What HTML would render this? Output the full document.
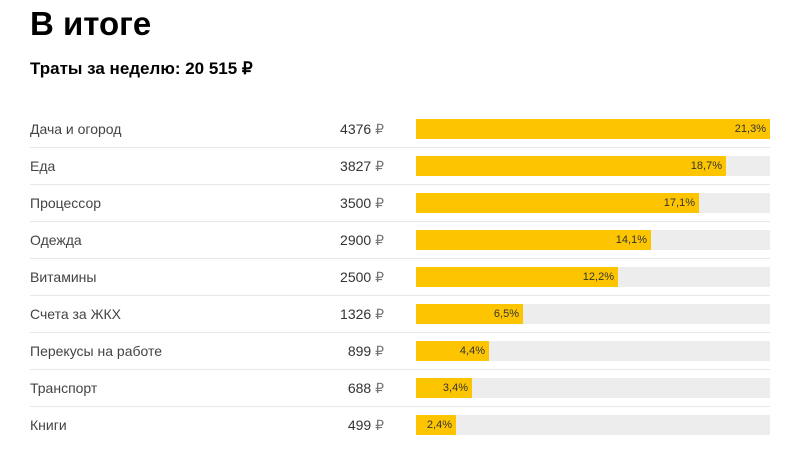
<!DOCTYPE html>
<html><head><meta charset="utf-8"><style>
body{margin:0;width:799px;height:445px;background:#fff;font-family:"Liberation Sans",sans-serif;color:#222;position:relative;overflow:hidden}
h1{position:absolute;left:30px;top:5px;margin:0;font-size:33px;font-weight:bold;color:#000}
h2{position:absolute;left:30px;top:59px;margin:0;font-size:17px;font-weight:bold;color:#000}
.row{position:absolute;left:30px;width:740px;height:37px}
.sep{position:absolute;left:30px;width:740px;height:1px;background:#e8e8e8}
.lab{position:absolute;left:0;top:0;font-size:14px;color:#444;line-height:20px}
.amt{position:absolute;right:386px;top:0;font-size:14px;color:#333;line-height:20px}
.amt span{color:#777}
.track{position:absolute;left:386px;top:0;width:354px;height:20px;background:#ededed}
.bar{position:absolute;left:0;top:0;height:20px;background:#fdc500;font-size:11px;line-height:20px;text-align:right;box-sizing:border-box;padding-right:4px;color:#333}
</style></head><body>
<h1>В итоге</h1>
<h2>Траты за неделю: 20 515 ₽</h2>
<div class="row" style="top:119px"><div class="lab">Дача и огород</div><div class="amt">4376 <span>₽</span></div><div class="track"><div class="bar" style="width:354px">21,3%</div></div></div>
<div class="sep" style="top:147px"></div>
<div class="row" style="top:156px"><div class="lab">Еда</div><div class="amt">3827 <span>₽</span></div><div class="track"><div class="bar" style="width:310px">18,7%</div></div></div>
<div class="sep" style="top:184px"></div>
<div class="row" style="top:193px"><div class="lab">Процессор</div><div class="amt">3500 <span>₽</span></div><div class="track"><div class="bar" style="width:283px">17,1%</div></div></div>
<div class="sep" style="top:221px"></div>
<div class="row" style="top:230px"><div class="lab">Одежда</div><div class="amt">2900 <span>₽</span></div><div class="track"><div class="bar" style="width:235px">14,1%</div></div></div>
<div class="sep" style="top:258px"></div>
<div class="row" style="top:267px"><div class="lab">Витамины</div><div class="amt">2500 <span>₽</span></div><div class="track"><div class="bar" style="width:202px">12,2%</div></div></div>
<div class="sep" style="top:295px"></div>
<div class="row" style="top:304px"><div class="lab">Счета за ЖКХ</div><div class="amt">1326 <span>₽</span></div><div class="track"><div class="bar" style="width:107px">6,5%</div></div></div>
<div class="sep" style="top:332px"></div>
<div class="row" style="top:341px"><div class="lab">Перекусы на работе</div><div class="amt">899 <span>₽</span></div><div class="track"><div class="bar" style="width:73px">4,4%</div></div></div>
<div class="sep" style="top:369px"></div>
<div class="row" style="top:378px"><div class="lab">Транспорт</div><div class="amt">688 <span>₽</span></div><div class="track"><div class="bar" style="width:56px">3,4%</div></div></div>
<div class="sep" style="top:406px"></div>
<div class="row" style="top:415px"><div class="lab">Книги</div><div class="amt">499 <span>₽</span></div><div class="track"><div class="bar" style="width:40px">2,4%</div></div></div>
</body></html>
